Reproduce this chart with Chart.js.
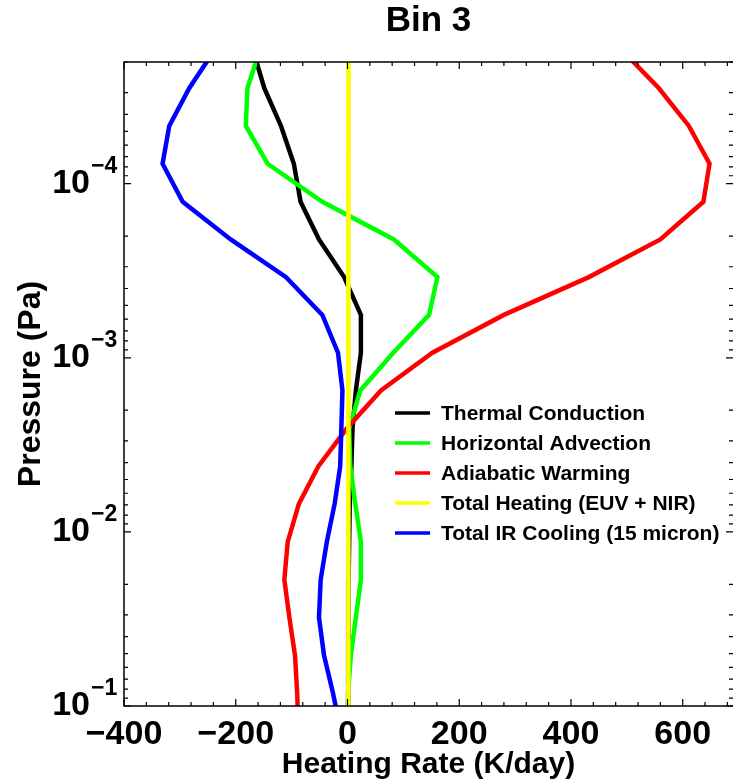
<!DOCTYPE html>
<html>
<head>
<meta charset="utf-8">
<title>Bin 3</title>
<script src="https://cdn.jsdelivr.net/npm/chart.js@4.4.0/dist/chart.umd.min.js"></script>
<style>
  body { margin: 0; background: #fff; }
  canvas { display: block; }
</style>
</head>
<body>
<canvas id="heatChart" width="733" height="782"></canvas>
<script>
// model pressure levels (Pa), top to bottom
const pressure = [1.71e-5, 2.82e-5, 4.66e-5, 7.68e-5, 1.27e-4, 2.09e-4, 3.44e-4, 5.67e-4, 9.35e-4,
                  1.54e-3, 2.54e-3, 4.19e-3, 6.91e-3, 1.14e-2, 1.88e-2, 3.10e-2, 5.11e-2, 8.42e-2, 0.139];

// heating rates (K/day) at each level
const thermalConduction = [-169, -149, -119, -96, -84, -51, -6, 24, 24, 15, 9, 7, 4, 3, 2, 2, 1, 1, 1];
const horizontalAdvection = [-157, -179, -182, -143, -45, 83, 161, 146, 82, 23, 3, 5, 14, 24, 24, 15, 6, 1, 0];
const adiabaticWarming = [491, 557, 611, 648, 637, 560, 432, 280, 152, 60, -1, -52, -87, -107, -113, -104, -94, -90, -88];
const totalHeating = [2, 2, 2, 2, 2, 2, 2, 2, 2, 2, 1, 1, 1, 1, 1, 1, 1, 1, 1];
const irCooling = [-238, -283, -319, -331, -295, -209, -110, -45, -17, -9, -11, -13, -23, -37, -48, -51, -42, -26, -12];

const seriesNames = ['Thermal Conduction', 'Horizontal Advection', 'Adiabatic Warming',
                     'Total Heating (EUV + NIR)', 'Total IR Cooling (15 micron)'];
const seriesColors = ['#000000', '#00ff00', '#ff0000', '#ffff00', '#0000ff'];

const xTicks = [-400, -200, 0, 200, 400, 600];
const yTicks = [1e-4, 1e-3, 1e-2, 1e-1];

Chart.defaults.font.family = '"Liberation Sans", Arial, Helvetica, sans-serif';
Chart.defaults.color = '#000';

function minus(v) {
  return v < 0 ? '\u2212' + Math.abs(v) : String(v);
}

// frame with inward ticks on all sides (IDL style)
const frameTicks = {
  id: 'frameTicks',
  afterDraw(chart) {
    const ctx = chart.ctx, a = chart.chartArea;
    const xs = chart.scales.x, ys = chart.scales.y;
    ctx.save();
    ctx.strokeStyle = '#000';
    ctx.lineWidth = 1.5;
    ctx.beginPath();
    // right side of the box falls just outside the picture
    ctx.moveTo(a.right + 2, a.top); ctx.lineTo(a.left, a.top);
    ctx.lineTo(a.left, a.bottom); ctx.lineTo(a.right + 2, a.bottom);
    ctx.stroke();
    ctx.lineWidth = 1.2;
    ctx.beginPath();
    for (let v = xs.min; v <= xs.max; v += 40) {
      const len = (v % 200 === 0) ? 7 : 4;
      const px = xs.getPixelForValue(v);
      ctx.moveTo(px, a.bottom); ctx.lineTo(px, a.bottom - len);
      ctx.moveTo(px, a.top); ctx.lineTo(px, a.top + len);
    }
    for (let d = -5; d <= -1; d++) {
      for (let m = 1; m <= 9; m++) {
        const v = m * Math.pow(10, d);
        if (v < ys.min * 0.999 || v > ys.max * 1.001) continue;
        const len = m === 1 ? 7 : 4;
        const py = ys.getPixelForValue(v);
        ctx.moveTo(a.left, py); ctx.lineTo(a.left + len, py);
        ctx.moveTo(a.right, py); ctx.lineTo(a.right - len, py);
      }
    }
    ctx.stroke();

    // exponents of the y tick labels
    ctx.fillStyle = '#000';
    ctx.font = 'bold 23px "Liberation Sans", Arial, sans-serif';
    ctx.textAlign = 'left';
    ctx.textBaseline = 'alphabetic';
    const labelRight = ys.right - ys.options.ticks.padding;
    ys.ticks.forEach(t => {
      const py = ys.getPixelForValue(t.value);
      ctx.fillText(minus(Math.round(Math.log10(t.value))), labelRight + 1, py - 11);
    });
    ctx.restore();
  }
};

// legend inside the plot
const innerLegend = {
  id: 'innerLegend',
  afterDraw(chart) {
    const ctx = chart.ctx;
    ctx.save();
    ctx.font = 'bold 21px "Liberation Sans", Arial, sans-serif';
    ctx.textAlign = 'left';
    ctx.textBaseline = 'middle';
    chart.data.datasets.forEach((ds, i) => {
      const y = 413 + i * 30;
      ctx.strokeStyle = ds.borderColor;
      ctx.lineWidth = 3.5;
      ctx.beginPath();
      ctx.moveTo(395, y); ctx.lineTo(430, y);
      ctx.stroke();
      ctx.fillStyle = '#000';
      ctx.fillText(ds.label, 441, y + 1);
    });
    ctx.restore();
  }
};

const allSeries = [thermalConduction, horizontalAdvection, adiabaticWarming, totalHeating, irCooling];

const datasets = allSeries.map((vals, i) => ({
  label: seriesNames[i],
  data: pressure.map((p, k) => ({ x: vals[k], y: p })),
  borderColor: seriesColors[i],
  backgroundColor: seriesColors[i],
  borderWidth: 4.5,
  pointRadius: 0,
  showLine: true,
  tension: 0,
  clip: 0,
  order: 5 - i
}));

new Chart(document.getElementById('heatChart'), {
  type: 'scatter',
  data: { datasets: datasets },
  plugins: [frameTicks, innerLegend],
  options: {
    responsive: false,
    animation: false,
    layout: { padding: 0 },
    plugins: {
      legend: { display: false },
      tooltip: { enabled: false },
      title: {
        display: true,
        text: 'Bin 3',
        fullSize: false,
        color: '#000',
        font: { size: 35, weight: 'bold', lineHeight: 1 },
        padding: { top: 3.5, bottom: 23.5 }
      }
    },
    scales: {
      x: {
        type: 'linear',
        min: -400,
        max: 690,
        grid: { display: false, drawTicks: false },
        border: { display: false },
        afterBuildTicks: s => { s.ticks = xTicks.map(v => ({ value: v })); },
        afterFit: s => { s.height = 76; },
        ticks: {
          autoSkip: false,
          maxRotation: 0,
          padding: 12,
          color: '#000',
          font: { size: 34, weight: 'bold', lineHeight: 1 },
          callback: v => minus(v)
        },
        title: {
          display: true,
          text: 'Heating Rate (K/day)',
          color: '#000',
          font: { size: 30, weight: 'bold', lineHeight: 1 },
          padding: { top: 0, bottom: 2 }
        }
      },
      y: {
        type: 'logarithmic',
        min: 2e-5,
        max: 0.1,
        reverse: true,
        grid: { display: false, drawTicks: false },
        border: { display: false },
        afterBuildTicks: s => { s.ticks = yTicks.map(v => ({ value: v })); },
        afterFit: s => { s.width = 124; },
        ticks: {
          autoSkip: false,
          padding: 34,
          color: '#000',
          font: { size: 34, weight: 'bold', lineHeight: 1 },
          callback: () => '10'
        },
        title: {
          display: true,
          text: 'Pressure (Pa)',
          color: '#000',
          font: { size: 32, weight: 'bold', lineHeight: 1.2 },
          padding: { top: 12, bottom: 0 }
        }
      }
    }
  }
});
</script>
</body>
</html>
